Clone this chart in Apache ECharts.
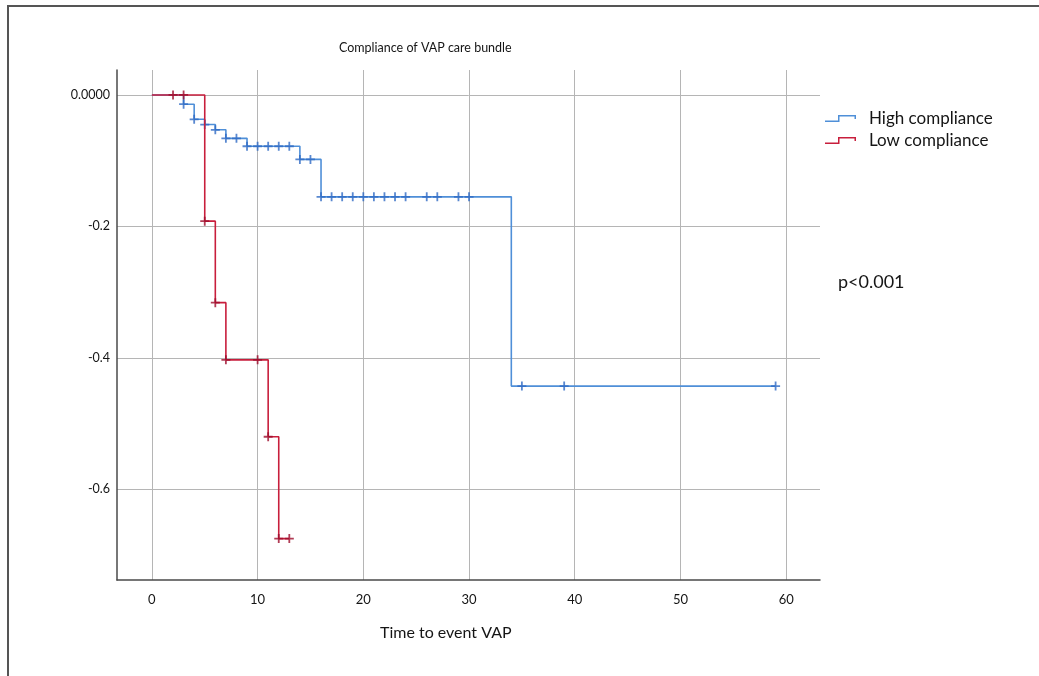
<!DOCTYPE html>
<html>
<head>
<meta charset="utf-8">
<script src="https://cdn.jsdelivr.net/npm/echarts@6/dist/echarts.min.js"></script>
<style>
html,body{margin:0;padding:0;background:#fff;}
#chart{width:1039px;height:676px;}
</style>
</head>
<body>
<div id="chart"></div>
<script>
// ---- data ----
const chartTitle = 'Compliance of VAP care bundle';
const xAxisTitle = 'Time to event VAP';
const pValueText = 'p<0.001';
const seriesNames = ['High compliance', 'Low compliance'];

const xTicks = [0, 10, 20, 30, 40, 50, 60];
const yTicks = [0, -0.2, -0.4, -0.6];

// High compliance: event times and curve level after each step
const highTimes  = [0, 3, 4, 5, 6, 7, 9, 14, 16, 34];
const highValues = [0, -0.014, -0.037, -0.045, -0.053, -0.066, -0.078, -0.098, -0.155, -0.443];
const highEnd = 59;
const highCensor = [3, 4, 5, 6, 7, 8, 9, 10, 11, 12, 13, 14, 15, 16, 17, 18, 19, 20, 21, 22, 23, 24, 26, 27, 29, 30, 35, 39, 59];

// Low compliance
const lowTimes  = [0, 5, 6, 7, 11, 12];
const lowValues = [0, -0.192, -0.316, -0.403, -0.52, -0.675];
const lowEnd = 13;
const lowCensor = [2, 3, 5, 6, 7, 10, 11, 12, 13];

const colors = { highLine: '#4f8fd8', highMark: '#2f6ac4', lowLine: '#c81e3c', lowMark: '#9e0c2c' };

// ---- helpers ----
function stepLine(times, values, end) {
  const d = times.map((t, i) => [t, values[i]]);
  d.push([end, values[values.length - 1]]);
  return d;
}
function levelAt(times, values, t) {
  let v = values[0];
  for (let i = 0; i < times.length; i++) if (times[i] <= t) v = values[i];
  return v;
}
function censorPoints(censor, times, values) {
  return censor.map(t => [t, levelAt(times, values, t)]);
}

const plusPath = 'path://M4,0h2v4h4v2h-4v4h-2v-4h-4v-2h4z';
const stepIcon = 'path://M0,5.5L13,5.5L13,0L31,0L31,4L29.5,4L29.5,1.5L14.5,1.5L14.5,7L0,7Z';
const font = 'Lato, "Open Sans", sans-serif';
const textColor = '#151515';

const chart = echarts.init(document.getElementById('chart'), null, { renderer: 'canvas' });
chart.setOption({
  backgroundColor: '#ffffff',
  animation: false,
  grid: { left: 117, right: 219, top: 70, bottom: 96, containLabel: false },
  legend: {
    data: seriesNames.map(n => ({ name: n, icon: stepIcon })),
    orient: 'vertical',
    left: 820, top: 105,
    itemWidth: 31, itemHeight: 7, itemGap: 5,
    textStyle: { fontFamily: font, fontSize: 17, color: textColor, padding: [0, 0, 0, 8] }
  },
  xAxis: {
    type: 'value', min: -3.3, max: 63.2,
    axisLine: { show: true, onZero: false, lineStyle: { color: '#4a4a4a', width: 1.5 } },
    axisTick: { show: false, customValues: xTicks },
    axisLabel: { customValues: xTicks, margin: 13, fontFamily: font, fontSize: 13, color: textColor },
    splitLine: { show: true, lineStyle: { color: '#b5b5b5', width: 1 } }
  },
  yAxis: {
    type: 'value', min: -0.738, max: 0.038,
    axisLine: { show: true, onZero: false, lineStyle: { color: '#4a4a4a', width: 1.5 } },
    axisTick: { show: false, customValues: yTicks },
    axisLabel: {
      customValues: yTicks, margin: 7, fontFamily: font, fontSize: 12.5, color: textColor,
      formatter: v => (v === 0 ? '0.0000' : v.toFixed(1))
    },
    splitLine: { show: true, lineStyle: { color: '#b5b5b5', width: 1 } }
  },
  graphic: [
    { type: 'rect', silent: true, shape: { x: 8, y: 6, width: 1200, height: 900 },
      style: { fill: 'none', stroke: '#555', lineWidth: 2 } },
    { type: 'text', left: 339, top: 41, style: { text: chartTitle, font: '12.5px ' + font, fill: textColor } },
    { type: 'text', left: 380, top: 625, style: { text: xAxisTitle, font: '16px ' + font, fill: textColor } },
    { type: 'text', left: 838, top: 273, style: { text: pValueText, font: '18px ' + font, fill: textColor } }
  ],
  series: [
    { name: seriesNames[0], type: 'line', step: 'end', showSymbol: false, z: 2,
      data: stepLine(highTimes, highValues, highEnd),
      itemStyle: { color: colors.highLine },
      lineStyle: { color: colors.highLine, width: 1.6 } },
    { name: seriesNames[0] + ' censored', type: 'scatter', symbol: plusPath, symbolSize: [9, 9], z: 3,
      data: censorPoints(highCensor, highTimes, highValues),
      itemStyle: { color: colors.highMark } },
    { name: seriesNames[1], type: 'line', step: 'end', showSymbol: false, z: 4,
      data: stepLine(lowTimes, lowValues, lowEnd),
      itemStyle: { color: colors.lowLine },
      lineStyle: { color: colors.lowLine, width: 1.6 } },
    { name: seriesNames[1] + ' censored', type: 'scatter', symbol: plusPath, symbolSize: [9, 9], z: 5,
      data: censorPoints(lowCensor, lowTimes, lowValues),
      itemStyle: { color: colors.lowMark } }
  ]
});
</script>
</body>
</html>
